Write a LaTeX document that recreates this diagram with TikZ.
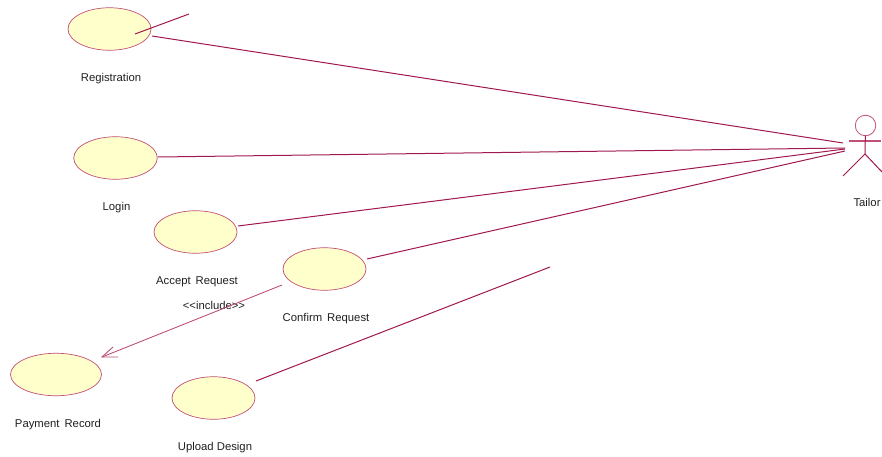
\documentclass[tikz,border=0pt]{standalone}
\usepackage{fontspec}
\setmainfont{Liberation Sans}
\usetikzlibrary{shapes.geometric}
\definecolor{umlline}{HTML}{A01850}
\definecolor{umledge}{HTML}{C05078}
\definecolor{umlfill}{HTML}{FFFFCB}
\definecolor{umltext}{HTML}{202020}
\tikzset{
  x=1pt,y=-1pt,
  usecase/.style={ellipse,draw=umledge,fill=umlfill,line width=0.7pt,inner sep=0pt,outer sep=0pt},
  label text/.style={text=umltext,font=\fontsize{11.3}{13}\selectfont,inner sep=0pt},
  assoc/.style={draw=umlline,line width=1pt},
  incl/.style={draw=umledge,line width=0.9pt},
}
\begin{document}
\begin{tikzpicture}
\useasboundingbox (0,0) rectangle (882,457);
\fill[white] (0,0) rectangle (882,457);
\node[usecase,minimum width=83pt,minimum height=42.5pt] (reg) at (109.5,29) {};
\node[usecase,minimum width=83.5pt,minimum height=42.5pt] (login) at (115.5,158) {};
\node[usecase,minimum width=83pt,minimum height=42.5pt] (accept) at (195.5,232) {};
\node[usecase,minimum width=83pt,minimum height=42.5pt] (confirm) at (324.5,269) {};
\node[usecase,minimum width=91pt,minimum height=42.5pt] (payment) at (56,374.5) {};
\node[usecase,minimum width=83pt,minimum height=42.5pt] (upload) at (213.5,398) {};
\node[label text] (lreg) at (111,78.5) {Registration};
\node[label text] (llogin) at (116.5,207.5) {Login};
\node[label text] (laccept) at (197,281.5) {Accept\, Request};
\node[label text] (lconfirm) at (326,318.5) {Confirm\, Request};
\node[label text] (lpay) at (58,424.5) {Payment\, Record};
\node[label text] (lupload) at (215,447.5) {Upload Design};
\node[label text] (ltailor) at (867,202.5) {Tailor};
\node[label text] (linc) at (214,305.5) {<{}<include>{}>};
% actor
\node[circle,draw=umledge,line width=0.8pt,fill=white,minimum size=20.5pt,inner sep=0pt,outer sep=0pt] (head) at (865.5,125.5) {};
\coordinate (armL) at (849,141);
\coordinate (armR) at (881,141);
\coordinate (hip) at (865,154);
\coordinate (legL) at (843,176);
\coordinate (legR) at (882,172);
\draw[assoc,draw=umledge,line width=1.2pt] (armL) -- (armR);
\draw[assoc] (head) -- (hip);
\draw[assoc] (legL) -- (hip) -- (legR);
% associations
\coordinate (t1) at (843,143);
\coordinate (t2) at (845,148);
\coordinate (t3) at (845,149);
\coordinate (t4) at (845,151);
\coordinate (r1) at (152,36);
\coordinate (l1) at (158,157);
\coordinate (a1) at (238,226);
\coordinate (c1) at (367,259);
\coordinate (u1) at (256,381);
\coordinate (u2) at (550,267);
\coordinate (s1) at (135,34);
\coordinate (s2) at (189,14);
\draw[assoc] (r1) -- (t1);
\draw[assoc] (l1) -- (t2);
\draw[assoc] (a1) -- (t3);
\draw[assoc] (c1) -- (t4);
\draw[assoc] (u1) -- (u2);
\draw[assoc] (s1) -- (s2);
% include
\coordinate (i1) at (282,285);
\coordinate (i2) at (102,357);
\coordinate (b1) at (113,347);
\coordinate (b2) at (118,357);
\draw[incl] (i1) -- (i2);
\draw[incl] (b1) -- (i2) -- (b2);
\end{tikzpicture}
\end{document}
